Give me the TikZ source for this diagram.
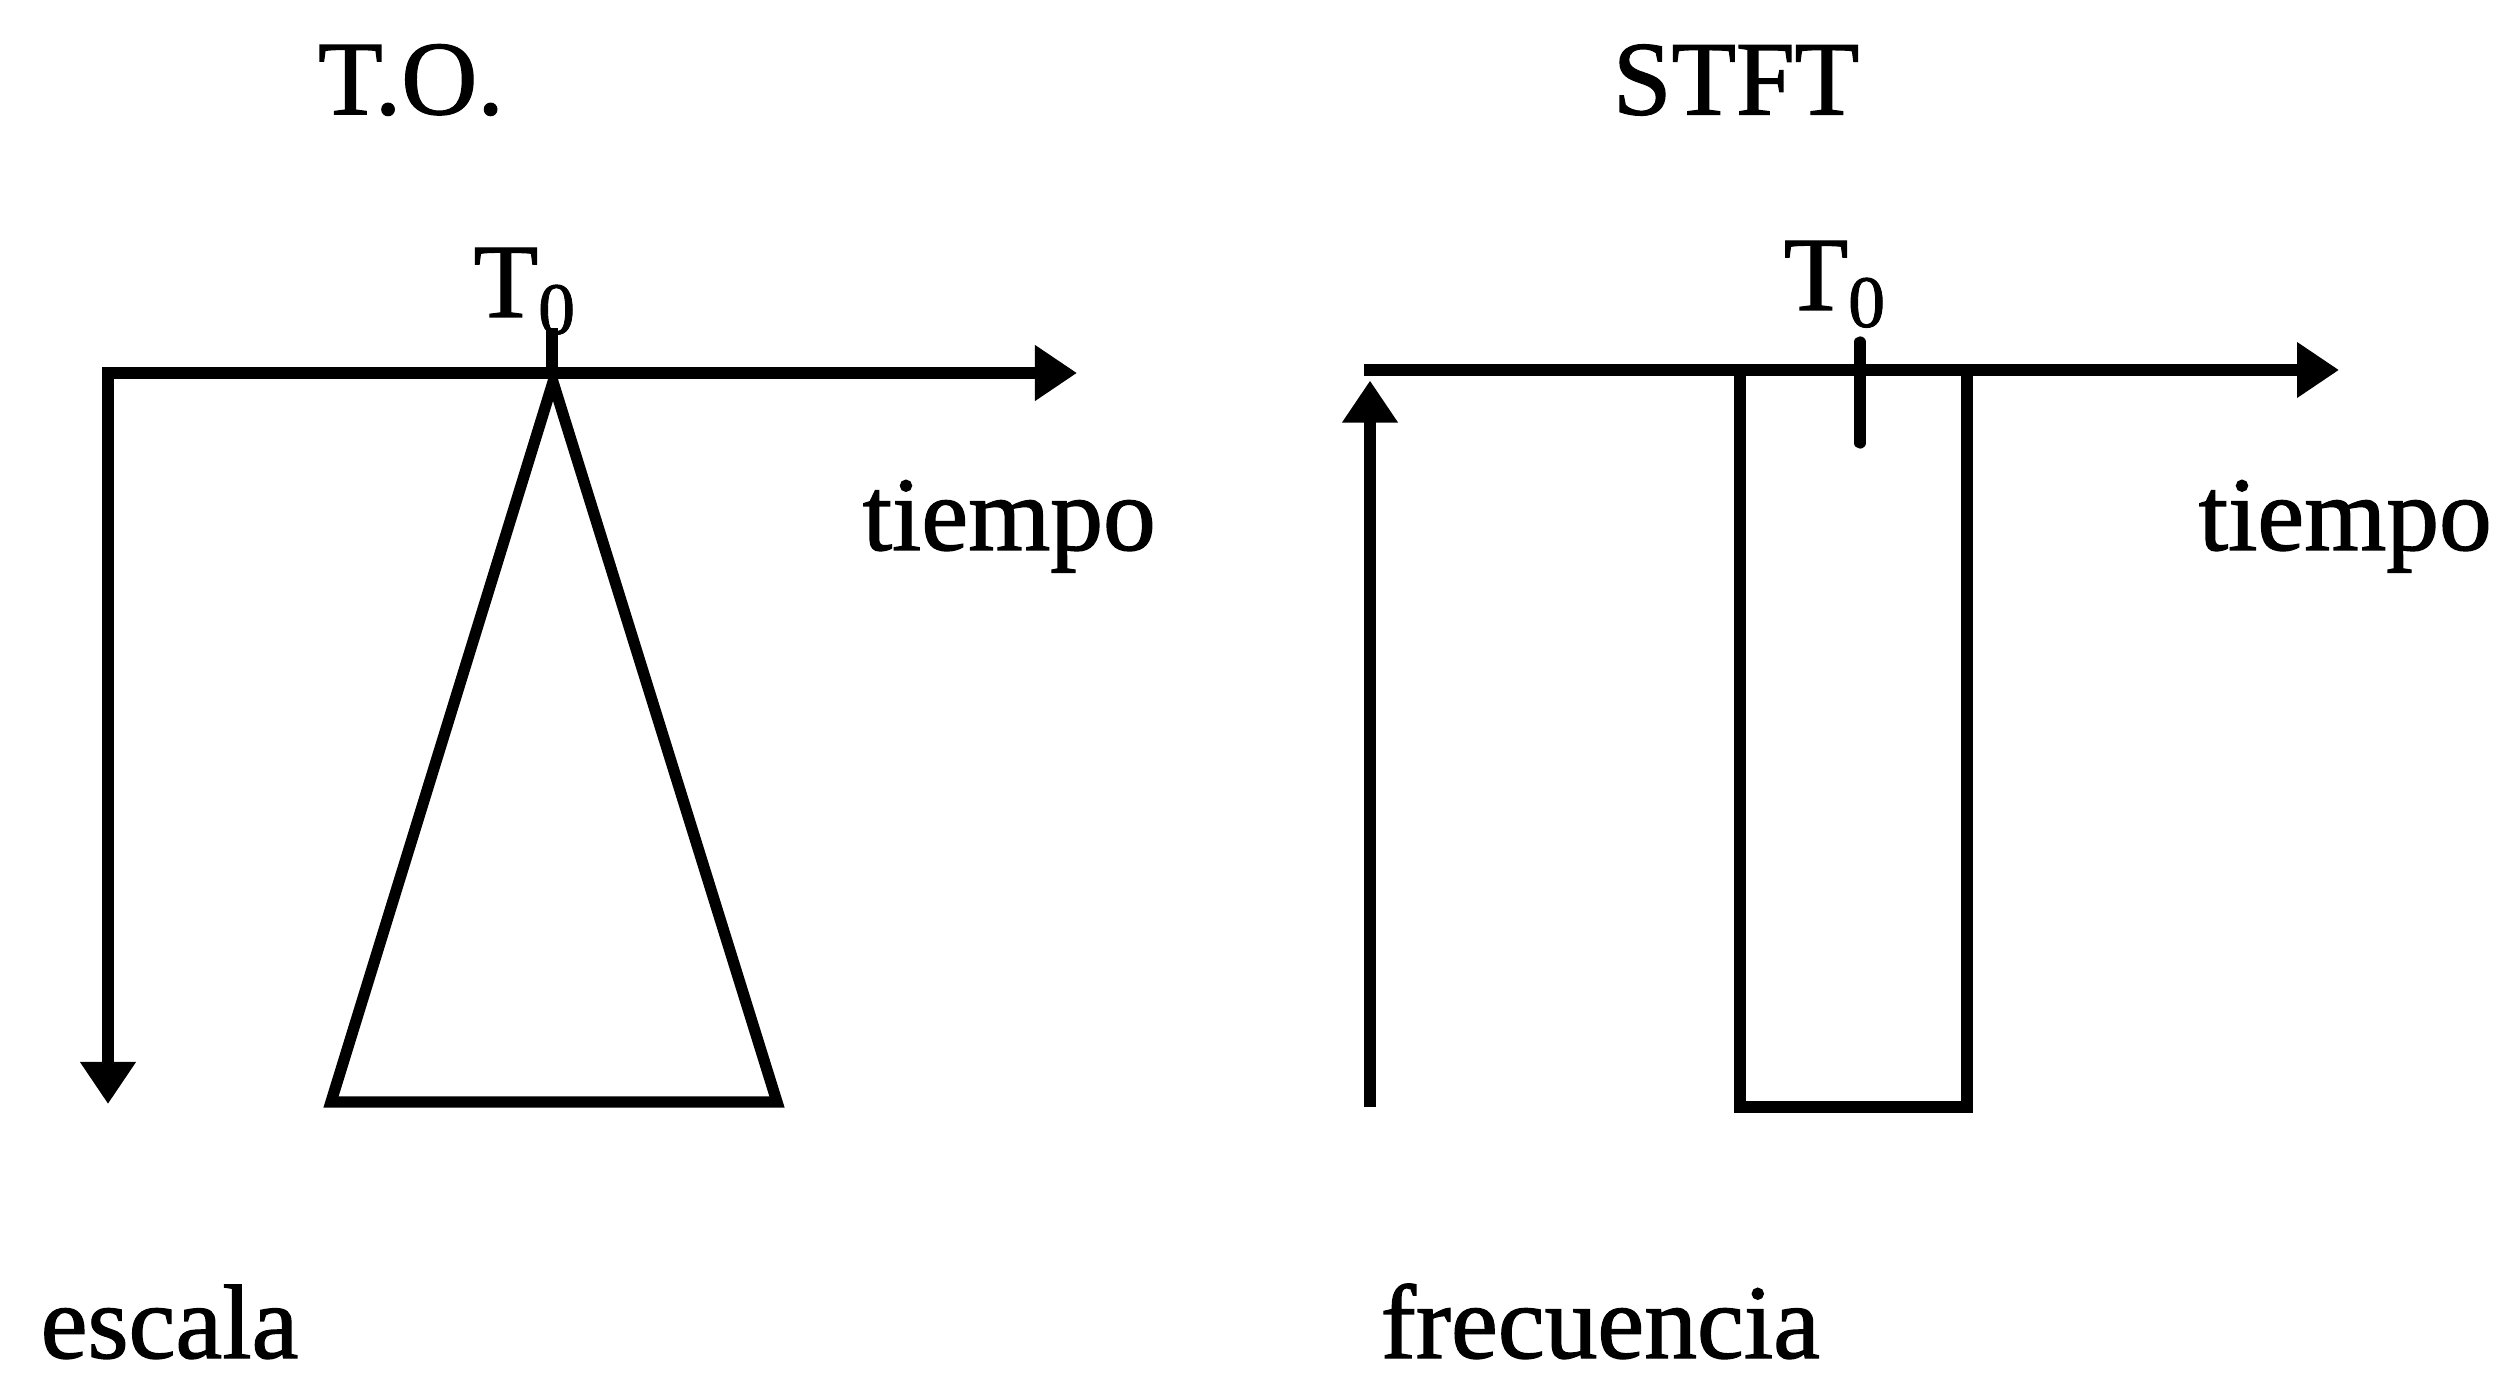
\documentclass[tikz,border=0pt]{standalone}
\usepackage{fontspec}
\setmainfont{Liberation Serif}[FakeBold=1.2]
\usetikzlibrary{arrows.meta}
\begin{document}
\begin{tikzpicture}[x=0.01cm,y=-0.01cm,
  ln/.style={line width=3.2pt},
  ax/.style={ln,-{Triangle[length=0.42cm,width=0.53cm]}},
  lbl/.style={inner sep=0pt,font=\fontsize{30}{36}\selectfont}]
\useasboundingbox (0,0) rectangle (2498,1392);
% left panel
\node[lbl] (to) at (411,80) {T.O.};
\coordinate (lo) at (108,373);
\coordinate (lx) at (1077,373);
\coordinate (ly) at (108,1104);
\draw[ax] ([xshift=-1.6pt]lo) -- (lx);
\draw[ax] (lo) -- (ly);
\coordinate (apex) at (553,382);
\coordinate (bl) at (331,1102);
\coordinate (br) at (777,1102);
\draw[ln,line join=miter] (apex) -- (br) -- (bl) -- cycle;
\node[lbl,anchor=base west] (t0l) at (473,317) {T\raisebox{-0.35ex}{\fontsize{21}{26}\selectfont 0}};
\coordinate (tkl1) at (552,328);
\coordinate (tkl2) at (552,373);
\draw[ln] (tkl1) -- (tkl2);
\node[lbl,anchor=base west] (tiempol) at (862,550) {tiempo};
\node[lbl,anchor=base west] (escala) at (40,1358) {escala};
% right panel
\node[lbl] (stft) at (1736,80) {STFT};
\coordinate (ro) at (1370,370);
\coordinate (rx) at (2339,370);
\coordinate (rb) at (1370,1107);
\draw[ax] ([xshift=-1.6pt]ro) -- (rx);
\draw[ax] (rb) -- ([yshift=-3pt]ro);
\coordinate (r1) at (1740,370);
\coordinate (r2) at (1740,1107);
\coordinate (r3) at (1967,1107);
\coordinate (r4) at (1967,370);
\draw[ln,line join=miter] (r1) -- (r2) -- (r3) -- (r4);
\node[lbl,anchor=base west] (t0r) at (1783,310) {T\raisebox{-0.35ex}{\fontsize{21}{26}\selectfont 0}};
\coordinate (tkr1) at (1860,342);
\coordinate (tkr2) at (1860,443);
\draw[ln,line cap=round] (tkr1) -- (tkr2);
\node[lbl,anchor=base west] (tiempor) at (2198,550) {tiempo};
\node[lbl,anchor=base west] (frec) at (1380,1358) {frecuencia};
\end{tikzpicture}
\end{document}
